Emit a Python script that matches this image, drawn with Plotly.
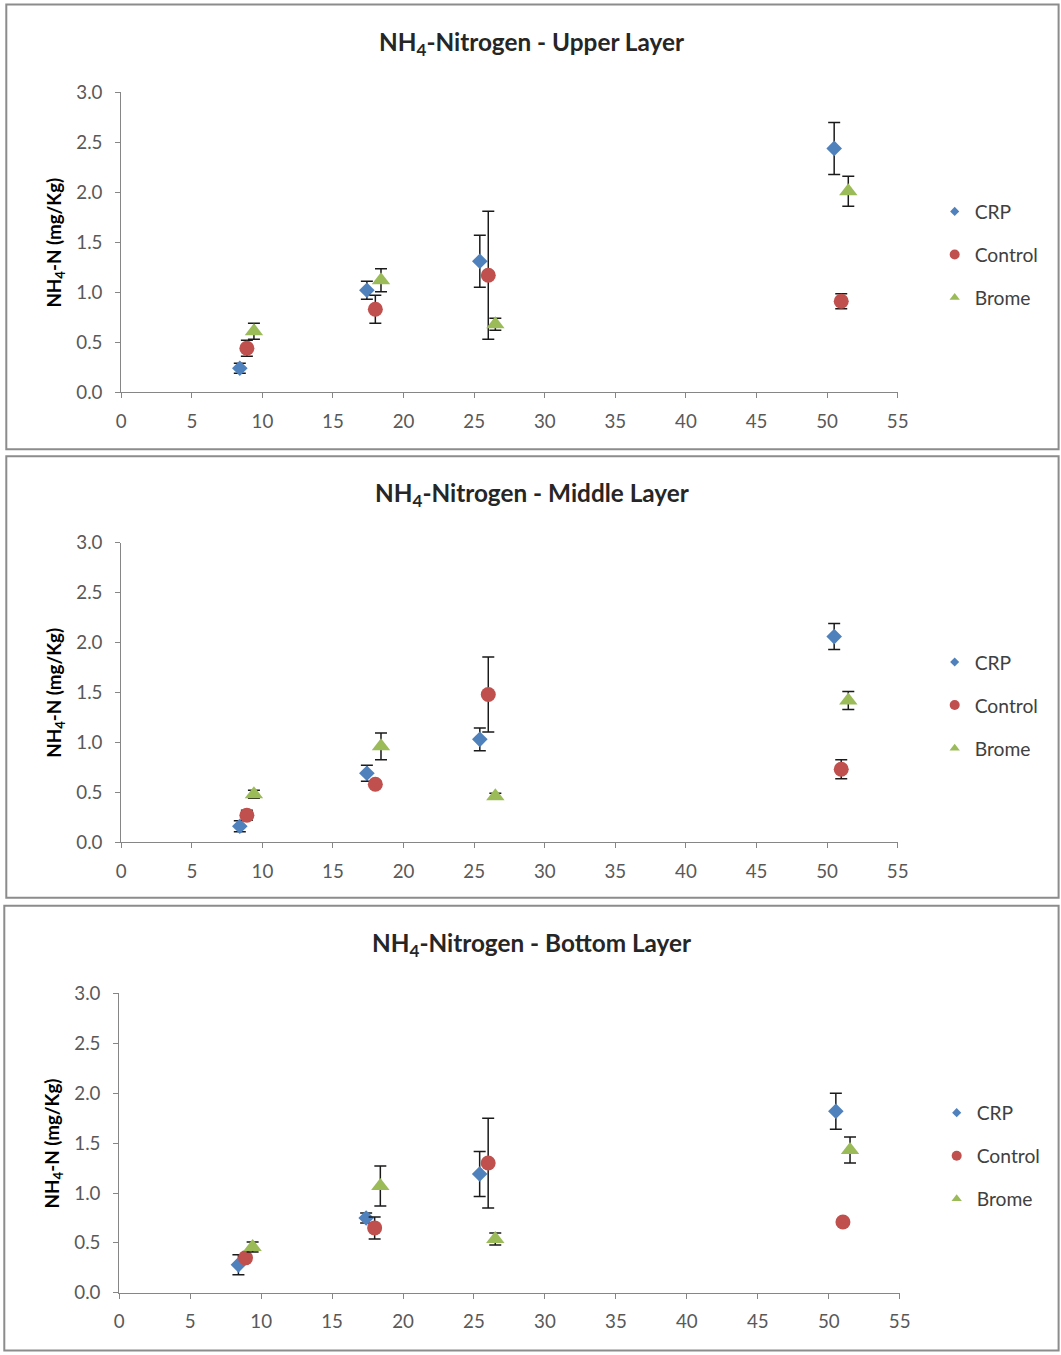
import plotly.graph_objects as go

# Empirical mapping observed between figure pixels and the photographed page:
# photo = SX * fig + OX (horizontal), photo = SY * fig + OY (vertical)
SX, OX = 0.9858, 4.7
SY, OY = 0.984, 11.5
W, H = 1077, 1371

series = ["CRP", "Control", "Brome"]
colors = {"CRP": "#4F81BD", "Control": "#C0504D", "Brome": "#9BBB59"}
symbols = {"CRP": "diamond", "Control": "circle", "Brome": "triangle-up"}
msize = {"CRP": 12, "Control": 15, "Brome": 16}
lsize = {"CRP": 7, "Control": 10, "Brome": 9}

x_crp = [8.4, 17.4, 25.4, 50.5]
x_control = [8.9, 18.0, 26.0, 51.0]
x_brome = [9.4, 18.4, 26.5, 51.5]

upper_crp = [0.24, 1.02, 1.31, 2.44]
upper_crp_err = [0.05, 0.09, 0.26, 0.26]
upper_control = [0.44, 0.83, 1.17, 0.91]
upper_control_err = [0.08, 0.14, 0.64, 0.075]
upper_brome = [0.61, 1.12, 0.68, 2.01]
upper_brome_err = [0.08, 0.115, 0.06, 0.15]

middle_crp = [0.16, 0.69, 1.03, 2.06]
middle_crp_err = [0.055, 0.08, 0.115, 0.13]
middle_control = [0.27, 0.58, 1.48, 0.73]
middle_control_err = [0.05, 0.03, 0.375, 0.095]
middle_brome = [0.48, 0.96, 0.46, 1.42]
middle_brome_err = [0.04, 0.135, 0.03, 0.09]

bottom_crp = [0.28, 0.75, 1.19, 1.82]
bottom_crp_err = [0.1, 0.05, 0.225, 0.18]
bottom_control = [0.35, 0.65, 1.30, 0.71]
bottom_control_err = [0.03, 0.11, 0.45, 0.03]
bottom_brome = [0.46, 1.07, 0.54, 1.43]
bottom_brome_err = [0.05, 0.2, 0.06, 0.13]

x_ticks = list(range(0, 60, 5))
y_ticks = [0.0, 0.5, 1.0, 1.5, 2.0, 2.5, 3.0]

panels = [
    dict(title="NH<sub>4</sub>-Nitrogen - Upper Layer",
         data={"CRP": (x_crp, upper_crp, upper_crp_err),
               "Control": (x_control, upper_control, upper_control_err),
               "Brome": (x_brome, upper_brome, upper_brome_err)},
         plot_px=(121, 898, 92, 392), box_px=(6, 1059, 4, 449),
         title_y=43, legend_px=(935, 192)),
    dict(title="NH<sub>4</sub>-Nitrogen - Middle Layer",
         data={"CRP": (x_crp, middle_crp, middle_crp_err),
               "Control": (x_control, middle_control, middle_control_err),
               "Brome": (x_brome, middle_brome, middle_brome_err)},
         plot_px=(121, 898, 542.7, 842.3), box_px=(6, 1059, 456, 898),
         title_y=494, legend_px=(935, 643)),
    dict(title="NH<sub>4</sub>-Nitrogen - Bottom Layer",
         data={"CRP": (x_crp, bottom_crp, bottom_crp_err),
               "Control": (x_control, bottom_control, bottom_control_err),
               "Brome": (x_brome, bottom_brome, bottom_brome_err)},
         plot_px=(119, 900, 993.7, 1293.3), box_px=(4, 1059, 906, 1351),
         title_y=945, legend_px=(937, 1094)),
]


def px(v):
    return ((v - OX) / SX) / W


def py(v):
    return 1 - ((v - OY) / SY) / H


def fs(v):
    return v / SX


FONT = "Lato, 'Open Sans', sans-serif"
fig = go.Figure()
layout = dict(
    width=W, height=H, margin=dict(l=0, r=0, t=0, b=0),
    paper_bgcolor="white", plot_bgcolor="white",
    font=dict(family=FONT, color="#595959"),
    shapes=[], annotations=[],
)

for i, p in enumerate(panels):
    k = "" if i == 0 else str(i + 1)
    xa, ya = "x" + k, "y" + k
    x0, x1, yt, yb = p["plot_px"]
    layout["xaxis" + k] = dict(
        domain=[px(x0), px(x1)], range=[0, 55], tickvals=x_ticks,
        ticks="outside", ticklen=5, tickcolor="#868686", showline=True,
        linecolor="#868686", linewidth=1, showgrid=False, zeroline=False,
        ticklabelstandoff=7,
        tickfont=dict(size=fs(18.5), color="#595959", family=FONT), anchor=ya, fixedrange=True,
    )
    layout["yaxis" + k] = dict(
        domain=[py(yb), py(yt)], range=[0, 3], tickvals=y_ticks,
        tickformat=".1f", ticks="outside", ticklen=5, tickcolor="#868686",
        showline=True, linecolor="#868686", linewidth=1, showgrid=False,
        zeroline=False, ticklabelstandoff=9,
        tickfont=dict(size=fs(18.5), color="#595959", family=FONT),
        anchor=xa, fixedrange=True,
    )
    bx0, bx1, by0, by1 = p["box_px"]
    layout["shapes"].append(dict(
        type="rect", xref="paper", yref="paper",
        x0=px(bx0), x1=px(bx1), y0=py(by1), y1=py(by0),
        line=dict(color="#8c8c8c", width=2), fillcolor="rgba(0,0,0,0)", layer="below",
    ))
    layout["annotations"].append(dict(
        text="<b>" + p["title"] + "</b>", xref="paper", yref="paper",
        x=px(532), y=py(p["title_y"]), showarrow=False,
        xanchor="center", yanchor="middle",
        font=dict(size=fs(24), color="#262626", family=FONT),
    ))
    layout["annotations"].append(dict(
        text="<b>NH<sub>4</sub>-N (mg/Kg)</b>", xref="paper", yref="paper",
        x=px(x0 - 66), y=py((yt + yb) / 2), showarrow=False, textangle=-90,
        xanchor="center", yanchor="middle",
        font=dict(size=fs(18.5), color="#000000", family=FONT),
    ))
    lname = "legend" + k
    lx, ly = p["legend_px"]
    layout[lname] = dict(
        x=px(lx), y=py(ly), xanchor="left", yanchor="top",
        bgcolor="rgba(0,0,0,0)", borderwidth=0, traceorder="grouped",
        tracegroupgap=15, itemwidth=30,
        font=dict(size=fs(19), color="#404040", family=FONT),
    )
    for s in series:
        xs, ys, es = p["data"][s]
        fig.add_trace(go.Scatter(
            x=xs, y=ys, mode="markers", name=s, xaxis=xa, yaxis=ya,
            showlegend=False,
            marker=dict(symbol=symbols[s], size=msize[s], color=colors[s]),
            error_y=dict(type="data", array=es, visible=True, color="#1a1a1a",
                         thickness=1.5, width=6),
        ))
    for s in series:
        fig.add_trace(go.Scatter(
            x=[None], y=[None], mode="markers", name=s, xaxis=xa, yaxis=ya,
            legend=lname, legendgroup=s + k, showlegend=True,
            marker=dict(symbol=symbols[s], size=lsize[s], color=colors[s]),
        ))

fig.update_layout(**layout)
fig.write_html("out.html", config={"displayModeBar": False})
